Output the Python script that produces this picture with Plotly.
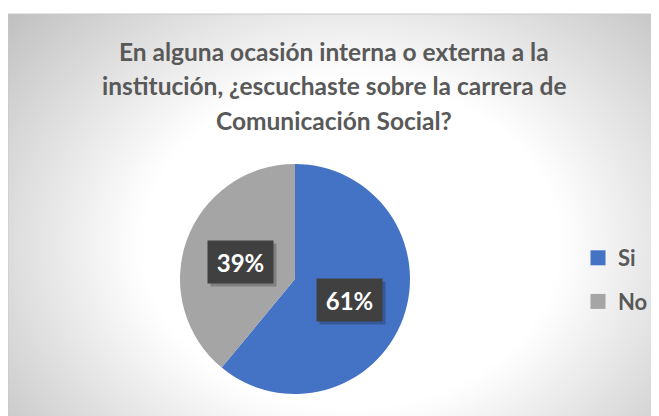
import numpy as np
import plotly.graph_objects as go

# ---- data ----
labels = ["Si", "No"]
values = [61, 39]
colors = ["#4472C4", "#A5A5A5"]
title_lines = [
    "En alguna ocasión interna o externa a la",
    "institución, ¿escuchaste sobre la carrera de",
    "Comunicación Social?",
]

W, H = 659, 416
# page is offset by the 8px body margin; chart area starts at page (8,14)
OX, OY = 8, 14
ML, MT = 0, OY - 8
PW, PH = W - ML, H - MT  # plot area in px

FONT = "Lato"
TXT = "#595959"

# ---- decorative radial background gradient (plot-area pixel coordinates) ----
gx = np.linspace(0, PW, 67)
gy = np.linspace(0, PH, 42)
X, Y = np.meshgrid(gx, gy)
cx, cy, a, b = 342, 230, 380, 300
d = np.sqrt(((X - cx) / a) ** 2 + ((Y - cy) / b) ** 2)
gray = np.clip(255 - 100 * np.maximum(0, d - 0.55), 185, 255)

fig = go.Figure()
fig.add_trace(go.Heatmap(
    x=gx, y=gy, z=gray, zmin=0, zmax=255,
    colorscale=[[0, "rgb(0,0,0)"], [1, "rgb(255,255,255)"]],
    zsmooth="best", showscale=False, hoverinfo="skip",
))

# ---- pie geometry ----
pcx, pcy, R = 295 - OX, 279 - OY, 115  # in plot-area px
fig.add_trace(go.Pie(
    labels=labels, values=values, sort=False, direction="clockwise",
    rotation=0, marker=dict(colors=colors, line=dict(width=0)),
    textinfo="none", hoverinfo="label+percent", showlegend=False,
    domain=dict(x=[(pcx - R) / PW, (pcx + R) / PW],
                y=[(PH - (pcy + R)) / PH, (PH - (pcy - R)) / PH]),
))

# legend entries
for lab, col in zip(labels, colors):
    fig.add_trace(go.Scatter(
        x=[None], y=[None], mode="markers", name=f"<b>{lab}</b>", legendgroup=lab,
        marker=dict(symbol="square", size=15, color=col),
    ))

# ---- data labels ----
total = sum(values)
cum = 0
annotations = []
for v in values:
    mid = (cum + v / 2) / total * 2 * np.pi
    cum += v
    lx = pcx + 0.5 * R * np.sin(mid)
    ly = pcy - 0.5 * R * np.cos(mid) + 2
    pct = f"{round(v / total * 100)}%"
    annotations.append(dict(
        x=lx + 3, y=ly + 3, xref="x", yref="y", text=" ", showarrow=False,
        width=63, height=40, bgcolor="rgba(0,0,0,0.22)",
        font=dict(family=FONT, size=24),
    ))
    annotations.append(dict(
        x=lx, y=ly, xref="x", yref="y", text=f"<b>{pct}</b>", showarrow=False,
        width=63, height=40, bgcolor="#404040",
        font=dict(family=FONT, size=24, color="white"),
    ))

# ---- title ----
for i, line in enumerate(title_lines):
    yc = 52 + 34 * i - OY
    annotations.append(dict(
        x=(334 - OX) / PW, y=1 - yc / PH, xref="paper", yref="paper",
        xanchor="center", yanchor="middle", text=f"<b>{line}</b>",
        showarrow=False, font=dict(family=FONT, size=24.5, color=TXT),
    ))

fig.update_layout(
    width=W, height=H,
    margin=dict(l=ML, r=0, t=MT, b=0),
    paper_bgcolor="white", plot_bgcolor="white",
    xaxis=dict(range=[0, PW], visible=False, fixedrange=True),
    yaxis=dict(range=[PH, 0], visible=False, fixedrange=True),
    annotations=annotations,
    legend=dict(
        x=(578 - OX) / PW, y=(H - 272) / PH, xanchor="left", yanchor="middle",
        font=dict(family=FONT, size=22, color=TXT),
        tracegroupgap=12, bgcolor="rgba(0,0,0,0)", itemwidth=30,
    ),
    shapes=[dict(type="rect", xref="paper", yref="paper", x0=0, y0=0, x1=1, y1=1,
                 line=dict(color="#c8c8c8", width=1), layer="above")],
)

fig.write_html("out.html")
